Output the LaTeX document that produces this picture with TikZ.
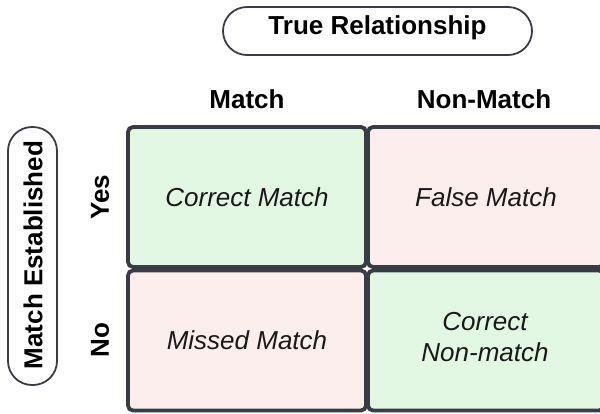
\documentclass[tikz,border=0pt]{standalone}
\usepackage{fontspec}
\setmainfont{Liberation Sans}
\begin{document}
\begin{tikzpicture}[x=1pt,y=-1pt,
  cellbox/.style={draw=bordergray, line width=3.8pt, rounded corners=5pt, inner sep=0pt,
    minimum width=236pt, minimum height=140pt, font=\fontsize{26}{31}\selectfont\itshape,
    align=center, text=black!90},
  goodcell/.style={cellbox, fill=goodgreen},
  badcell/.style={cellbox, fill=badpink},
  celltext/.style={font=\fontsize{26}{31}\selectfont\itshape, align=center, text=black!90, inner sep=0pt},
  pill/.style={draw=bordergray, line width=1.8pt, rounded corners=24pt, inner sep=0pt},
  headtext/.style={font=\fontsize{26}{31}\selectfont\bfseries, text=black, inner sep=0pt}
]
\definecolor{bordergray}{HTML}{383D45}
\definecolor{goodgreen}{HTML}{E2F8E2}
\definecolor{badpink}{HTML}{FDEEEE}
\useasboundingbox (0,0) rectangle (600,413);
\clip (0,0) rectangle (600,413);

% top pill
\node[pill, minimum width=309pt, minimum height=48pt] (truepill) at (377.5,31) {};
\node[headtext] (truetxt) at (377.5,28) {True Relationship};

% left pill
\node[pill, minimum width=49pt, minimum height=258pt] (matchpill) at (32.5,256) {};
\node[headtext, rotate=90] (matchtxt) at (33,255) {Match Established};

% column headers
\node[headtext] (colmatch) at (247,99) {Match};
\node[headtext] (colnon) at (484,99) {Non-Match};

% row headers
\node[headtext, rotate=90] (rowyes) at (100,197) {Yes};
\node[headtext, rotate=90] (rowno) at (100,340) {No};

% cells
\node[goodcell, minimum width=238pt] (c11) at (247,197) {Correct Match};
\node[badcell] (c12) at (486,197) {False Match};
\node[badcell, minimum width=238pt] (c21) at (247,340.5) {Missed Match};
\node[goodcell] (c22) at (486,340.5) {};
\node[celltext] (c22txt) at (485,337.5) {Correct\\Non-match};
\end{tikzpicture}
\end{document}
